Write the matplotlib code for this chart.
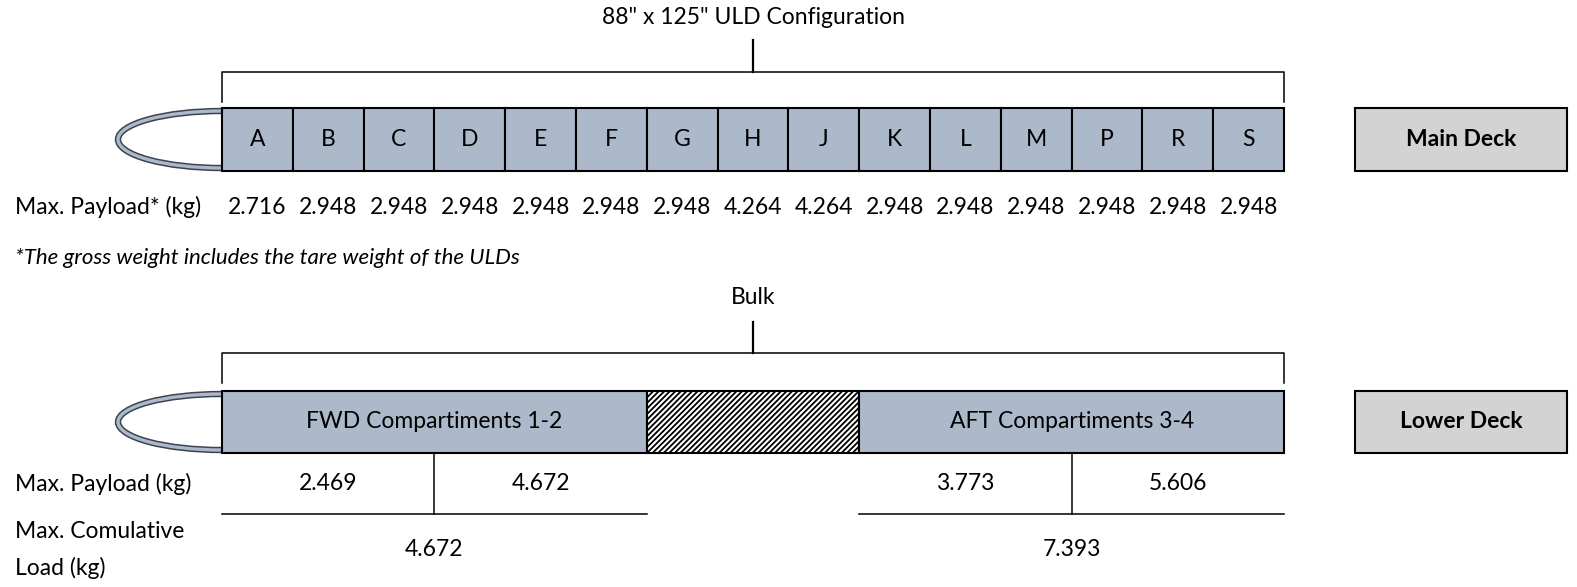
import matplotlib.pyplot as plt
from matplotlib.patches import Rectangle, Arc

# Dati della configurazione
main_positions = list('ABCDEFGHJKLMPRS')
main_payload = [2.716, 2.948, 2.948, 2.948, 2.948, 2.948, 2.948, 4.264, 4.264,
                2.948, 2.948, 2.948, 2.948, 2.948, 2.948]
lower_sections = ['FWD Compartiments 1-2', 'Bulk', 'AFT Compartiments 3-4']
lower_share = [2, 1, 2]
lower_payload = [[2.469, 4.672], [], [3.773, 5.606]]
lower_cumulative = [4.672, None, 7.393]

plt.rcParams['font.family'] = ['Lato', 'DejaVu Sans']
plt.rcParams['hatch.linewidth'] = 1.3
FS = 16.5
BLUE = '#acb9ca'
GRAY = '#d3d3d3'

fig = plt.figure(figsize=(15.77, 5.87), dpi=100)
ax = fig.add_axes([0, 0, 1, 1])
ax.set_xlim(0, 1577)
ax.set_ylim(587, 0)
ax.axis('off')

x0, x1 = 222, 1284
xc = (x0 + x1) / 2


def bracket(y_line, y_top, y_bottom, title, y_title):
    ax.plot([x0, x0, x1, x1], [y_bottom, y_line, y_line, y_bottom], color='black', lw=1.1)
    ax.plot([xc, xc], [y_top, y_line], color='black', lw=1.6)
    ax.text(xc, y_title, title, ha='center', va='center', fontsize=FS)


def nose(y_top, y_bot):
    cy = (y_top + y_bot) / 2
    h = y_bot - y_top - 6
    ax.add_patch(Arc((x0, cy), 2 * 104, h, theta1=90, theta2=270, color='#3c4450', lw=4.6, zorder=2))
    ax.add_patch(Arc((x0, cy), 2 * 104, h, theta1=90, theta2=270, color=BLUE, lw=2.4, zorder=3))


def deck_label(y_top, y_bot, label):
    ax.add_patch(Rectangle((1355, y_top), 1567 - 1355, y_bot - y_top, facecolor=GRAY,
                           edgecolor='black', lw=1.5))
    ax.text((1355 + 1567) / 2, (y_top + y_bot) / 2, label, ha='center', va='center',
            fontsize=FS, fontweight='bold')


# Main deck
mt, mb = 108, 171
bracket(72, 40, 102, '88" x 125" ULD Configuration', 18)
nose(mt, mb)
w = (x1 - x0) / len(main_positions)
for i, (pos, val) in enumerate(zip(main_positions, main_payload)):
    ax.add_patch(Rectangle((x0 + i * w, mt), w, mb - mt, facecolor=BLUE, edgecolor='black', lw=1.5, zorder=4))
    ax.text(x0 + (i + 0.5) * w, (mt + mb) / 2, pos, ha='center', va='center', fontsize=FS, zorder=5)
    ax.text(x0 + (i + 0.5) * w, 207, f'{val:.3f}', ha='center', va='center', fontsize=FS)
ax.text(15, 207, 'Max. Payload* (kg)', ha='left', va='center', fontsize=FS)
deck_label(mt, mb, 'Main Deck')
ax.text(15, 258, '*The gross weight includes the tare weight of the ULDs', ha='left', va='center',
        fontsize=16, style='italic')

# Lower deck
lt, lb = 391, 453
bracket(353, 322, 383, 'Bulk', 297)
nose(lt, lb)
unit = (x1 - x0) / sum(lower_share)
xs = x0
for name, share, pay, cum in zip(lower_sections, lower_share, lower_payload, lower_cumulative):
    sw = share * unit
    if pay:
        ax.add_patch(Rectangle((xs, lt), sw, lb - lt, facecolor=BLUE, edgecolor='black', lw=1.5, zorder=4))
        ax.text(xs + sw / 2, (lt + lb) / 2, name, ha='center', va='center', fontsize=FS, zorder=5)
        for j, v in enumerate(pay):
            ax.text(xs + (j + 0.5) * sw / len(pay), 484, f'{v:.3f}', ha='center', va='center', fontsize=FS)
        ax.plot([xs + sw / 2, xs + sw / 2], [lb, 514], color='black', lw=1.1)
        ax.plot([xs, xs + sw], [514, 514], color='black', lw=1.1)
        ax.text(xs + sw / 2, 549, f'{cum:.3f}', ha='center', va='center', fontsize=FS)
    else:
        ax.add_patch(Rectangle((xs, lt), sw, lb - lt, facecolor='white', edgecolor='black',
                               hatch='//////', lw=1.5, zorder=4))
    xs += sw
ax.text(15, 484, 'Max. Payload (kg)', ha='left', va='center', fontsize=FS)
ax.text(15, 532, 'Max. Comulative', ha='left', va='center', fontsize=FS)
ax.text(15, 568, 'Load (kg)', ha='left', va='center', fontsize=FS)
deck_label(lt, lb, 'Lower Deck')

plt.savefig('out.png', dpi=100)
